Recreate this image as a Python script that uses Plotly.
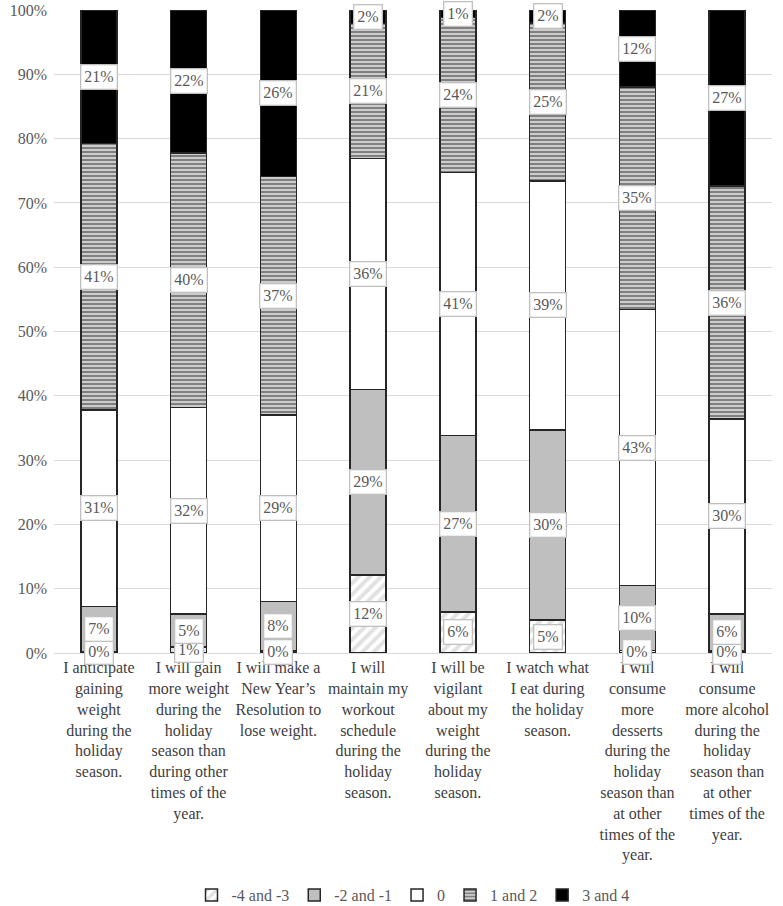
import plotly.graph_objects as go

categories = [
    "I anticipate<br>gaining<br>weight<br>during the<br>holiday<br>season.",
    "I will gain<br>more weight<br>during the<br>holiday<br>season than<br>during other<br>times of the<br>year.",
    "I will make a<br>New Year’s<br>Resolution to<br>lose weight.",
    "I will<br>maintain my<br>workout<br>schedule<br>during the<br>holiday<br>season.",
    "I will be<br>vigilant<br>about my<br>weight<br>during the<br>holiday<br>season.",
    "I watch what<br>I eat during<br>the holiday<br>season.",
    "I will<br>consume<br>more<br>desserts<br>during the<br>holiday<br>season than<br>at other<br>times of the<br>year.",
    "I will<br>consume<br>more alcohol<br>during the<br>holiday<br>season than<br>at other<br>times of the<br>year.",
]

series_names = ["-4 and -3", "-2 and -1", "0", "1 and 2", "3 and 4"]
neg_4_3 = [0.2, 0.9, 0.3, 12.1, 6.4, 5.1, 0.4, 0.3]
neg_2_1 = [7.0, 5.2, 7.7, 28.9, 27.4, 29.6, 10.1, 5.8]
zero = [30.6, 32.1, 29.0, 35.9, 40.9, 38.7, 42.9, 30.3]
pos_1_2 = [41.4, 39.6, 37.1, 21.0, 24.1, 24.6, 34.6, 36.2]
pos_3_4 = [20.8, 22.2, 25.9, 2.1, 1.2, 2.0, 12.0, 27.4]
series_values = [neg_4_3, neg_2_1, zero, pos_1_2, pos_3_4]

FONT = "Liberation Serif"
markers = [
    dict(color="white", pattern=dict(shape="/", fgcolor="#c4c4c4", bgcolor="white", size=8, solidity=0.5)),
    dict(color="#bfbfbf"),
    dict(color="white"),
    dict(color="white", pattern=dict(shape="-", fgcolor="black", bgcolor="white", size=4, solidity=0.7)),
    dict(color="black"),
]

fig = go.Figure()
for name, vals, mk in zip(series_names, series_values, markers):
    m = dict(mk)
    m["line"] = dict(color="#262626", width=1.5)
    fig.add_trace(go.Bar(x=categories, y=vals, name=name, marker=m, width=0.4))

cum = [0.0] * len(categories)
for vals in series_values:
    for i, v in enumerate(vals):
        fig.add_annotation(
            x=categories[i], y=cum[i] + v / 2, text=f"{round(v)}%",
            showarrow=False, bgcolor="white", bordercolor="#c0c0c0", borderwidth=1.3,
            borderpad=3, font=dict(family=FONT, size=16, color="#595959"),
        )
        cum[i] += v

fig.update_layout(
    barmode="stack",
    width=783, height=906,
    margin=dict(l=54, r=11, t=10, b=253, autoexpand=False),
    plot_bgcolor="white", paper_bgcolor="white",
    font=dict(family=FONT, size=16, color="#404040"),
    legend=dict(orientation="h", x=0.5, xanchor="center", y=-0.35, yanchor="top",
                font=dict(family=FONT, size=16, color="#595959"), traceorder="normal",
                itemwidth=30, itemclick=False),
    showlegend=True,
)
fig.update_yaxes(range=[0, 100], dtick=10, ticksuffix="%", showgrid=True, gridcolor="#d9d9d9",
                 zeroline=False, tickfont=dict(family=FONT, size=16, color="#595959"), ticks="",
                 ticklabelstandoff=6, automargin=False)
fig.update_xaxes(showline=True, linecolor="#d9d9d9", tickangle=0, automargin=False,
                 tickfont=dict(family=FONT, size=16, color="#404040"), ticks="")

fig.write_html("out.html", config={"displayModeBar": False},
               post_script="document.body.style.margin='0';")
